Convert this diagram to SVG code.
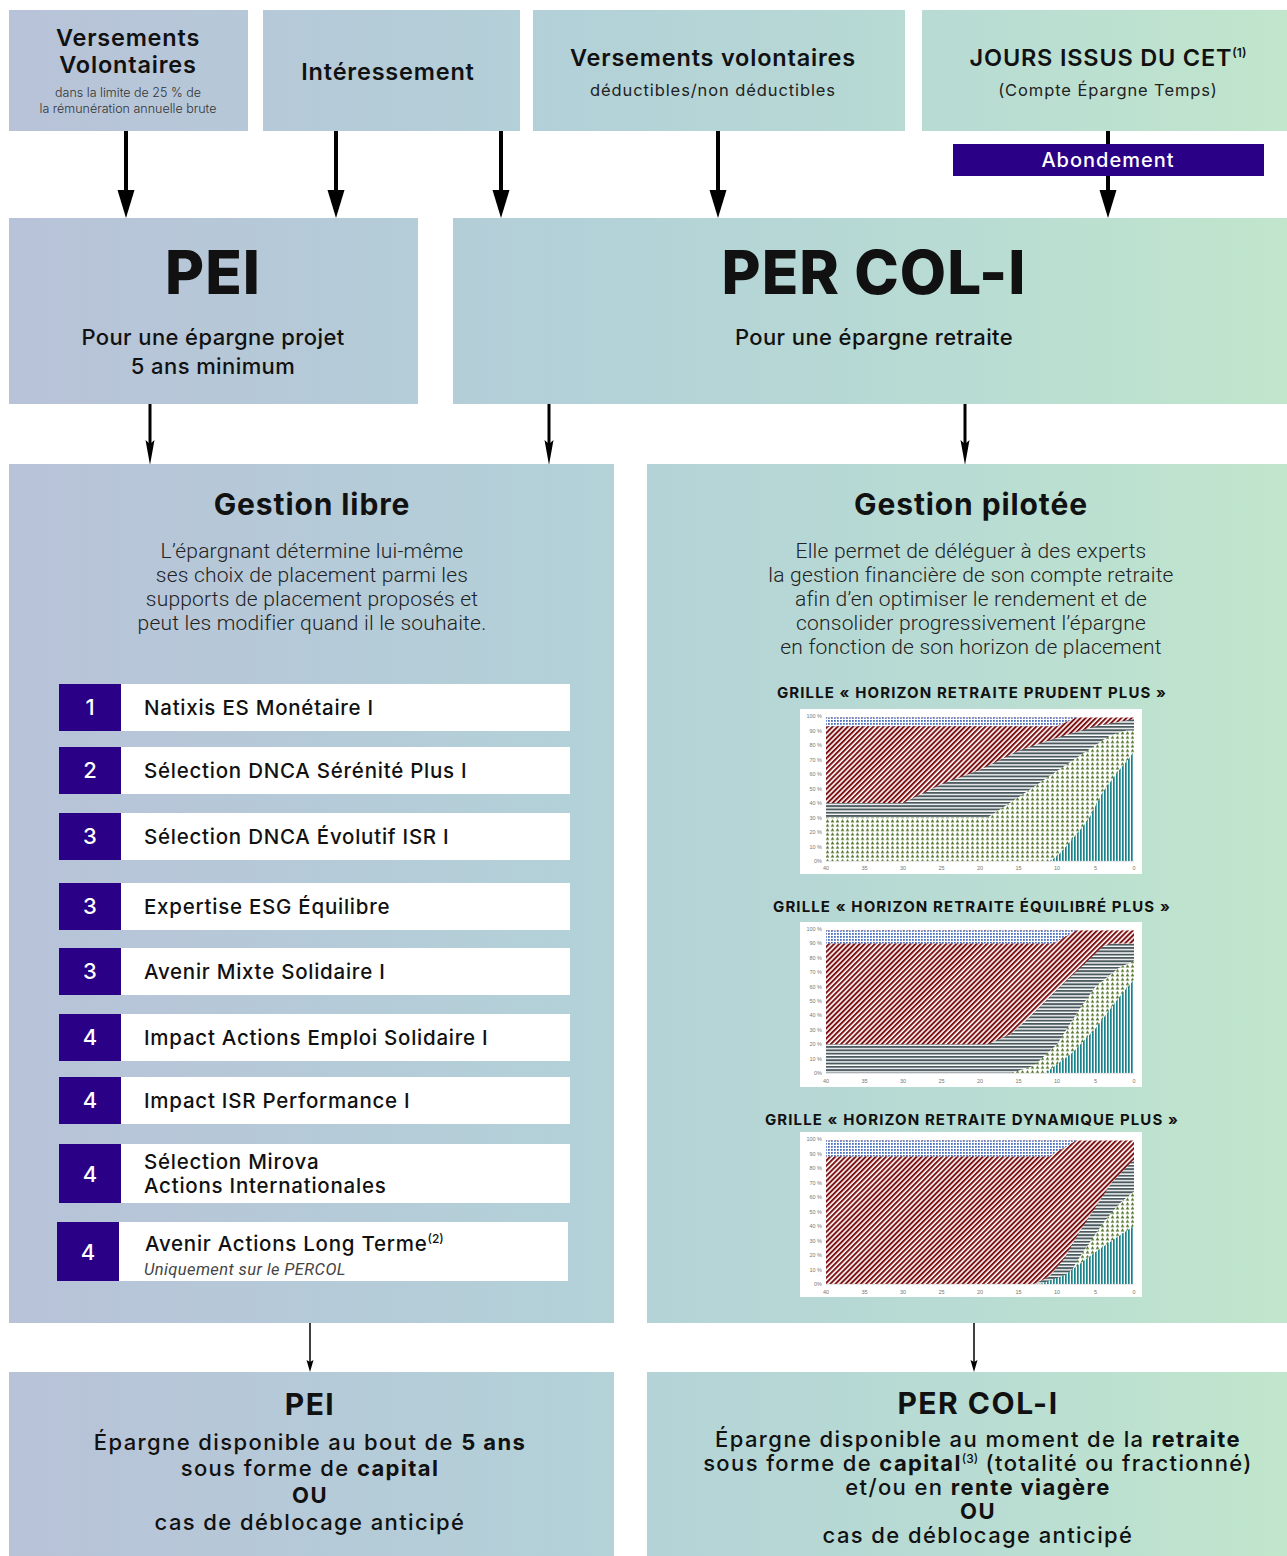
<svg xmlns="http://www.w3.org/2000/svg" width="1287" height="1556" viewBox="0 0 1287 1556">
<style>
.bg{fill:url(#bgGrad)}
.hd{font-family:Inter,"Open Sans",sans-serif;fill:#111;text-anchor:middle}
.top{font-size:23.5px;font-weight:600;letter-spacing:0.8px}
.sub{font-size:16.5px;font-weight:400;fill:#222;letter-spacing:0.9px}
.tiny{font-size:12.5px;font-weight:300;fill:#333}
.big{font-size:60px;font-weight:800;letter-spacing:1px}
.mid{font-size:22px;font-weight:500;letter-spacing:0.4px}
.gh{font-size:30px;font-weight:700;letter-spacing:0.9px}
.para{font-family:Roboto,sans-serif;font-weight:300;font-size:21px;fill:#222;text-anchor:middle;letter-spacing:0.2px}
.sq{fill:#2a0087}
.wh{fill:#fff}
.num{font-family:Inter,sans-serif;font-size:22px;font-weight:500;fill:#fff;text-anchor:middle}
.fund{font-family:Inter,sans-serif;font-size:20.5px;font-weight:500;fill:#111;letter-spacing:0.75px}
.ital{font-family:Roboto,sans-serif;font-style:italic;font-size:16.5px;fill:#444;letter-spacing:0.4px}
.ctitle{font-family:Inter,sans-serif;font-size:15px;font-weight:700;fill:#111;text-anchor:middle;letter-spacing:1.1px}
.cbg{fill:#fff}
.yl{font-family:"Liberation Sans",sans-serif;font-size:5.5px;fill:#777;text-anchor:end}
.xl{font-family:"Liberation Sans",sans-serif;font-size:5.5px;fill:#777;text-anchor:middle}
.red{fill:url(#pRed)}
.blue{fill:url(#pBlue)}
.gray{fill:url(#pGray)}
.green{fill:url(#pGreen)}
.teal{fill:url(#pTeal)}
.bt{font-size:22px;font-weight:500;letter-spacing:1.4px}
.bh{font-size:30px;font-weight:700;letter-spacing:1.5px}
.b{font-weight:700}
.arr1{stroke:#000;stroke-width:4;fill:none;marker-end:url(#headL)}
.arr2{stroke:#000;stroke-width:3;fill:none;marker-end:url(#headM)}
.arr3{stroke:#000;stroke-width:1.5;fill:none;marker-end:url(#headS)}
</style>
<defs>
<linearGradient id="bgGrad" gradientUnits="userSpaceOnUse" x1="0" y1="0" x2="1287" y2="0">
<stop offset="0" stop-color="#b8c2d8"/>
<stop offset="0.45" stop-color="#b3d1d8"/>
<stop offset="0.75" stop-color="#b8dcd3"/>
<stop offset="1" stop-color="#c1e6cc"/>
</linearGradient>
<pattern id="pRed" patternUnits="userSpaceOnUse" width="3.6" height="3.6" patternTransform="rotate(45)">
<rect width="3.6" height="3.6" fill="#fff"/><rect width="2" height="3.6" fill="#7d1214"/>
</pattern>
<pattern id="pBlue" patternUnits="userSpaceOnUse" width="3" height="3">
<rect width="3" height="3" fill="#fff"/><rect width="1.8" height="1.8" fill="#4a6fc0"/>
</pattern>
<pattern id="pGray" patternUnits="userSpaceOnUse" width="4" height="3.3">
<rect width="4" height="3.3" fill="#fff"/><rect width="4" height="1.9" fill="#4b5a5f"/>
</pattern>
<pattern id="pGreen" patternUnits="userSpaceOnUse" width="5" height="4.4">
<rect width="5" height="4.4" fill="#fff"/><path d="M0.6,4 L2.5,0.8 L4.4,4 z" fill="#55762e"/>
</pattern>
<pattern id="pTeal" patternUnits="userSpaceOnUse" width="3" height="4">
<rect width="3" height="4" fill="#fff"/><rect width="1.7" height="4" fill="#17838a"/>
</pattern>
<marker id="headL" markerUnits="userSpaceOnUse" markerWidth="28" markerHeight="18" viewBox="0 -9 28 18" refX="2" refY="0" orient="auto">
<path d="M0,-8.5 L28,0 L0,8.5 z" fill="#000"/>
</marker>
<marker id="headM" markerUnits="userSpaceOnUse" markerWidth="26" markerHeight="10" viewBox="0 -5 26 10" refX="4" refY="0" orient="auto">
<path d="M0,-4.5 L25,0 L0,4.5 L4,0 z" fill="#000"/>
</marker>
<marker id="headS" markerUnits="userSpaceOnUse" markerWidth="13" markerHeight="8" viewBox="0 -4 13 8" refX="2" refY="0" orient="auto">
<path d="M0,-3.5 L12,0 L0,3.5 L2,0 z" fill="#000"/>
</marker>
</defs>

<rect width="1287" height="1556" fill="#fff"/>

<g id="src-versements-volontaires">
<rect class="bg" x="9" y="10" width="239" height="121"/>
<text class="hd top" x="128" y="46">Versements</text>
<text class="hd top" x="128" y="73">Volontaires</text>
<text class="hd tiny" x="128" y="97">dans la limite de 25 % de</text>
<text class="hd tiny" x="128" y="113">la rémunération annuelle brute</text>
</g>
<g id="src-interessement">
<rect class="bg" x="263" y="10" width="257" height="121"/>
<text class="hd top" x="388" y="80">Intéressement</text>
</g>
<g id="src-versements-deductibles">
<rect class="bg" x="533" y="10" width="372" height="121"/>
<text class="hd top" x="713" y="66">Versements volontaires</text>
<text class="hd sub" x="713" y="96">déductibles/non déductibles</text>
</g>
<g id="src-cet">
<rect class="bg" x="922" y="10" width="365" height="121"/>
<text class="hd top" x="1108" y="66">JOURS ISSUS DU CET<tspan font-size="12" dy="-9" letter-spacing="0">(1)</tspan></text>
<text class="hd sub" x="1108" y="96">(Compte Épargne Temps)</text>
</g>

<g id="pei">
<rect class="bg" x="9" y="218" width="409" height="186"/>
<text class="hd big" x="213" y="294">PEI</text>
<text class="hd mid" x="213" y="345">Pour une épargne projet</text>
<text class="hd mid" x="213" y="374">5 ans minimum</text>
</g>
<g id="per-col-i">
<rect class="bg" x="453" y="218" width="834" height="186"/>
<text class="hd big" x="874" y="294">PER COL-I</text>
<text class="hd mid" x="874" y="345">Pour une épargne retraite</text>
</g>

<g id="connectors">
<line class="arr1" x1="126" y1="131" x2="126" y2="192"/>
<line class="arr1" x1="336" y1="131" x2="336" y2="192"/>
<line class="arr1" x1="501" y1="131" x2="501" y2="192"/>
<line class="arr1" x1="718" y1="131" x2="718" y2="192"/>
<line class="arr1" x1="1108" y1="131" x2="1108" y2="192"/>
<line class="arr2" x1="150" y1="404" x2="150" y2="444"/>
<line class="arr2" x1="549" y1="404" x2="549" y2="444"/>
<line class="arr2" x1="965" y1="404" x2="965" y2="444"/>
<line class="arr3" x1="310" y1="1323" x2="310" y2="1362"/>
<line class="arr3" x1="974" y1="1323" x2="974" y2="1362"/>
</g>

<g id="abondement">
<rect x="953" y="144" width="311" height="32" fill="#2a0087"/>
<text x="1108" y="167" font-family="Inter,sans-serif" font-size="20" font-weight="500" fill="#fff" text-anchor="middle" letter-spacing="1">Abondement</text>
</g>

<g id="gestion-libre">
<rect class="bg" x="9" y="464" width="605" height="859"/>
<text class="hd gh" x="312" y="515">Gestion libre</text>
<text class="para" x="312" y="558">L’épargnant détermine lui-même</text>
<text class="para" x="312" y="582">ses choix de placement parmi les</text>
<text class="para" x="312" y="606">supports de placement proposés et</text>
<text class="para" x="312" y="630">peut les modifier quand il le souhaite.</text>
</g>

<g id="fund-1"><rect class="sq" x="59" y="684" width="62" height="47"/><rect class="wh" x="121" y="684" width="449" height="47"/><text class="num" x="90" y="715">1</text><text class="fund" x="144" y="715">Natixis ES Monétaire I</text></g>
<g id="fund-2"><rect class="sq" x="59" y="747" width="62" height="47"/><rect class="wh" x="121" y="747" width="449" height="47"/><text class="num" x="90" y="778">2</text><text class="fund" x="144" y="778">Sélection DNCA Sérénité Plus I</text></g>
<g id="fund-3"><rect class="sq" x="59" y="813" width="62" height="47"/><rect class="wh" x="121" y="813" width="449" height="47"/><text class="num" x="90" y="844">3</text><text class="fund" x="144" y="844">Sélection DNCA Évolutif ISR I</text></g>
<g id="fund-4"><rect class="sq" x="59" y="883" width="62" height="47"/><rect class="wh" x="121" y="883" width="449" height="47"/><text class="num" x="90" y="914">3</text><text class="fund" x="144" y="914">Expertise ESG Équilibre</text></g>
<g id="fund-5"><rect class="sq" x="59" y="948" width="62" height="47"/><rect class="wh" x="121" y="948" width="449" height="47"/><text class="num" x="90" y="979">3</text><text class="fund" x="144" y="979">Avenir Mixte Solidaire I</text></g>
<g id="fund-6"><rect class="sq" x="59" y="1014" width="62" height="47"/><rect class="wh" x="121" y="1014" width="449" height="47"/><text class="num" x="90" y="1045">4</text><text class="fund" x="144" y="1045">Impact Actions Emploi Solidaire I</text></g>
<g id="fund-7"><rect class="sq" x="59" y="1077" width="62" height="47"/><rect class="wh" x="121" y="1077" width="449" height="47"/><text class="num" x="90" y="1108">4</text><text class="fund" x="144" y="1108">Impact ISR Performance I</text></g>
<g id="fund-8"><rect class="sq" x="59" y="1144" width="62" height="59"/><rect class="wh" x="121" y="1144" width="449" height="59"/><text class="num" x="90" y="1182">4</text><text class="fund" x="144" y="1169">Sélection Mirova</text><text class="fund" x="144" y="1193">Actions Internationales</text></g>
<g id="fund-9"><rect class="sq" x="57" y="1222" width="62" height="59"/><rect class="wh" x="119" y="1222" width="449" height="59"/><text class="num" x="88" y="1260">4</text><text class="fund" x="145" y="1251">Avenir Actions Long Terme<tspan font-size="12" dy="-8" letter-spacing="0">(2)</tspan></text><text class="ital" x="144" y="1275">Uniquement sur le PERCOL</text></g>

<g id="gestion-pilotee">
<rect class="bg" x="647" y="464" width="640" height="859"/>
<text class="hd gh" x="971" y="515">Gestion pilotée</text>
<text class="para" x="971" y="558">Elle permet de déléguer à des experts</text>
<text class="para" x="971" y="582">la gestion financière de son compte retraite</text>
<text class="para" x="971" y="606">afin d’en optimiser le rendement et de</text>
<text class="para" x="971" y="630">consolider progressivement l’épargne</text>
<text class="para" x="971" y="654">en fonction de son horizon de placement</text>
</g>

<g id="chart-prudent">
<text class="ctitle" x="972" y="698">GRILLE « HORIZON RETRAITE PRUDENT PLUS  »</text>
<rect class="cbg" x="800" y="709" width="342" height="165"/>
<rect class="red" x="826" y="717.5" width="308" height="143.5"/>
<polygon class="blue" points="826,726.2 1057,726.2 1076.3,717.5 826,717.5"/>
<polygon class="gray" points="826,861 826,803 903,803 941.5,784.2 980,769.7 1018.5,750.8 1057,737.8 1095.5,726.2 1134,718.9 1134,861"/>
<polygon class="green" points="826,861 826,817.5 987.7,817.5 1018.5,797.2 1057,771.1 1095.5,745 1110.9,734.9 1126.3,730.5 1134,730.5 1134,861"/>
<polygon class="teal" points="1049.3,861 1057,856.7 1072.4,839.3 1087.8,820.4 1095.5,805.9 1103.2,791.4 1118.6,771.1 1134,752.3 1134,861"/>
<line x1="826" y1="861.3" x2="1134" y2="861.3" stroke="#ccc" stroke-width="0.6"/>
<text class="yl" x="822" y="718">100 %</text><text class="yl" x="822" y="732.5">90 %</text><text class="yl" x="822" y="747">80 %</text><text class="yl" x="822" y="761.5">70 %</text><text class="yl" x="822" y="776">60 %</text><text class="yl" x="822" y="790.5">50 %</text><text class="yl" x="822" y="805">40 %</text><text class="yl" x="822" y="819.5">30 %</text><text class="yl" x="822" y="834">20 %</text><text class="yl" x="822" y="848.5">10 %</text><text class="yl" x="822" y="863">0%</text>
<text class="xl" x="826" y="870">40</text><text class="xl" x="864.5" y="870">35</text><text class="xl" x="903" y="870">30</text><text class="xl" x="941.5" y="870">25</text><text class="xl" x="980" y="870">20</text><text class="xl" x="1018.5" y="870">15</text><text class="xl" x="1057" y="870">10</text><text class="xl" x="1095.5" y="870">5</text><text class="xl" x="1134" y="870">0</text>
</g>

<g id="chart-equilibre">
<text class="ctitle" x="972" y="912">GRILLE « HORIZON RETRAITE ÉQUILIBRÉ PLUS »</text>
<rect class="cbg" x="800" y="922" width="342" height="165"/>
<rect class="red" x="826" y="930.4" width="308" height="142.6"/>
<polygon class="blue" points="826,943.4 1053.2,943.4 1076.3,930.4 826,930.4"/>
<polygon class="gray" points="826,1073 826,1044.2 987.7,1044.2 1010.8,1034.1 1028.5,1018.3 1061.6,985.2 1080.1,967.9 1103.2,946.3 1110.9,943.4 1134,943.4 1134,1073"/>
<polygon class="green" points="1010.8,1073 1033.9,1065.8 1057,1044.2 1080.1,1008.2 1095.5,986.6 1118.6,967.9 1134,960.7 1134,1073"/>
<polygon class="teal" points="1045.5,1073 1072.4,1052.8 1095.5,1028.4 1118.6,998.1 1134,979.4 1134,1073"/>
<line x1="826" y1="1073.3" x2="1134" y2="1073.3" stroke="#ccc" stroke-width="0.6"/>
<text class="yl" x="822" y="931">100 %</text><text class="yl" x="822" y="945.4">90 %</text><text class="yl" x="822" y="959.8">80 %</text><text class="yl" x="822" y="974.2">70 %</text><text class="yl" x="822" y="988.6">60 %</text><text class="yl" x="822" y="1003">50 %</text><text class="yl" x="822" y="1017.4">40 %</text><text class="yl" x="822" y="1031.8">30 %</text><text class="yl" x="822" y="1046.2">20 %</text><text class="yl" x="822" y="1060.6">10 %</text><text class="yl" x="822" y="1075">0%</text>
<text class="xl" x="826" y="1083">40</text><text class="xl" x="864.5" y="1083">35</text><text class="xl" x="903" y="1083">30</text><text class="xl" x="941.5" y="1083">25</text><text class="xl" x="980" y="1083">20</text><text class="xl" x="1018.5" y="1083">15</text><text class="xl" x="1057" y="1083">10</text><text class="xl" x="1095.5" y="1083">5</text><text class="xl" x="1134" y="1083">0</text>
</g>

<g id="chart-dynamique">
<text class="ctitle" x="972" y="1125">GRILLE « HORIZON RETRAITE DYNAMIQUE  PLUS »</text>
<rect class="cbg" x="800" y="1132" width="342" height="165"/>
<rect class="red" x="826" y="1140.5" width="308" height="143.5"/>
<polygon class="blue" points="826,1156.4 1049.3,1156.4 1076.3,1140.5 826,1140.5"/>
<polygon class="gray" points="1033.9,1284 1049.3,1276.8 1064.7,1257.9 1078.6,1233.3 1095.5,1207.2 1111.7,1182.5 1128.6,1165.1 1134,1159.3 1134,1284"/>
<polygon class="green" points="1064.7,1284 1076.3,1262.3 1087.8,1244.9 1103.2,1223.1 1118.6,1204.3 1134,1191.2 1134,1284"/>
<polygon class="teal" points="1040.1,1284 1064.7,1275.3 1095.5,1252.1 1118.6,1236.2 1134,1226 1134,1284"/>
<line x1="826" y1="1284.3" x2="1134" y2="1284.3" stroke="#ccc" stroke-width="0.6"/>
<text class="yl" x="822" y="1141">100 %</text><text class="yl" x="822" y="1155.5">90 %</text><text class="yl" x="822" y="1170">80 %</text><text class="yl" x="822" y="1184.5">70 %</text><text class="yl" x="822" y="1199">60 %</text><text class="yl" x="822" y="1213.5">50 %</text><text class="yl" x="822" y="1228">40 %</text><text class="yl" x="822" y="1242.5">30 %</text><text class="yl" x="822" y="1257">20 %</text><text class="yl" x="822" y="1271.5">10 %</text><text class="yl" x="822" y="1286">0%</text>
<text class="xl" x="826" y="1294">40</text><text class="xl" x="864.5" y="1294">35</text><text class="xl" x="903" y="1294">30</text><text class="xl" x="941.5" y="1294">25</text><text class="xl" x="980" y="1294">20</text><text class="xl" x="1018.5" y="1294">15</text><text class="xl" x="1057" y="1294">10</text><text class="xl" x="1095.5" y="1294">5</text><text class="xl" x="1134" y="1294">0</text>
</g>

<g id="out-pei">
<rect class="bg" x="9" y="1372" width="605" height="184"/>
<text class="hd bh" x="310" y="1415">PEI</text>
<text class="hd bt" x="310" y="1450">Épargne disponible au bout de <tspan class="b">5 ans</tspan></text>
<text class="hd bt" x="310" y="1476">sous forme de <tspan class="b">capital</tspan></text>
<text class="hd bt b" x="310" y="1503">OU</text>
<text class="hd bt" x="310" y="1530">cas de déblocage anticipé</text>
</g>
<g id="out-per-col-i">
<rect class="bg" x="647" y="1372" width="640" height="184"/>
<text class="hd bh" x="978" y="1414">PER COL-I</text>
<text class="hd bt" x="978" y="1447">Épargne disponible au moment de la <tspan class="b">retraite</tspan></text>
<text class="hd bt" x="978" y="1471">sous forme de <tspan class="b">capital</tspan><tspan font-size="12" dy="-8" letter-spacing="0">(3)</tspan><tspan dy="8"> (totalité ou fractionné)</tspan></text>
<text class="hd bt" x="978" y="1495">et/ou en <tspan class="b">rente viagère</tspan></text>
<text class="hd bt b" x="978" y="1519">OU</text>
<text class="hd bt" x="978" y="1543">cas de déblocage anticipé</text>
</g>
</svg>
